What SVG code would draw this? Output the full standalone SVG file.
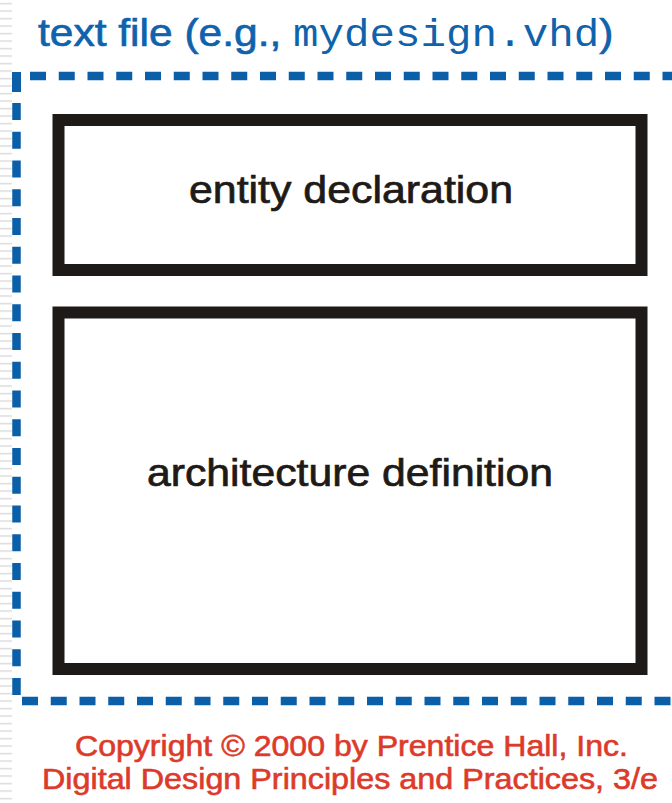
<svg xmlns="http://www.w3.org/2000/svg" width="672" height="803" viewBox="0 0 672 803">
  <defs>
    <pattern id="margin-rules" x="0" y="0" width="14" height="7.5" patternUnits="userSpaceOnUse">
      <rect x="0" y="3" width="12" height="1.2" fill="#d4d4d4"/>
    </pattern>
  </defs>
  <style>
    .sans { font-family: "Liberation Sans", Arial, Helvetica, sans-serif; }
    .mono { font-family: "Liberation Mono", "Courier New", monospace; stroke: none; }
    .label { font-size: 38px; fill: #1e1a17; stroke: #1e1a17; stroke-width: 0.7; text-anchor: middle; }
    .title { font-size: 39px; fill: #0f62ac; stroke: #0f62ac; stroke-width: 0.7; }
    .credit { font-size: 29px; fill: #dc3a2a; stroke: #dc3a2a; stroke-width: 0.6; text-anchor: middle; }
    .frame { fill: none; stroke: #1e1a17; stroke-width: 12; }
    .dash { stroke: #0b5fa8; stroke-width: 8.5; fill: none; }
  </style>

  <rect width="672" height="803" fill="#ffffff"/>
  <!-- ruled margin strip on the left edge -->
  <rect x="0" y="0" width="12" height="803" fill="url(#margin-rules)"/>

  <!-- title -->
  <g id="title">
    <text class="sans title" transform="translate(38,46) scale(1.09,1)">text file (e.g., <tspan class="mono">mydesign.vhd</tspan>)</text>
  </g>

  <!-- dashed file boundary -->
  <g id="file-boundary">
    <line class="dash" x1="30" y1="76" x2="672" y2="76" stroke-dasharray="16 12.75"/>
    <rect x="12" y="72" width="9" height="20" fill="#0b5fa8"/>
    <line class="dash" x1="16.5" y1="103" x2="16.5" y2="700" stroke-dasharray="17 11.75"/>
    <line class="dash" x1="22" y1="701" x2="672" y2="701" stroke-dasharray="16 12.75"/>
  </g>

  <g id="entity">
    <rect class="frame" x="58.5" y="120" width="583" height="150"/>
    <text class="sans label" x="351" y="203" textLength="324" lengthAdjust="spacingAndGlyphs">entity declaration</text>
  </g>

  <g id="architecture">
    <rect class="frame" x="58.5" y="312.5" width="583" height="356.5"/>
    <text class="sans label" x="350" y="486" textLength="406" lengthAdjust="spacingAndGlyphs">architecture definition</text>
  </g>

  <g id="credits">
    <text class="sans credit" x="351.5" y="756" textLength="553" lengthAdjust="spacingAndGlyphs">Copyright © 2000 by Prentice Hall, Inc.</text>
    <text class="sans credit" x="350" y="789" textLength="616" lengthAdjust="spacingAndGlyphs">Digital Design Principles and Practices, 3/e</text>
  </g>
</svg>
